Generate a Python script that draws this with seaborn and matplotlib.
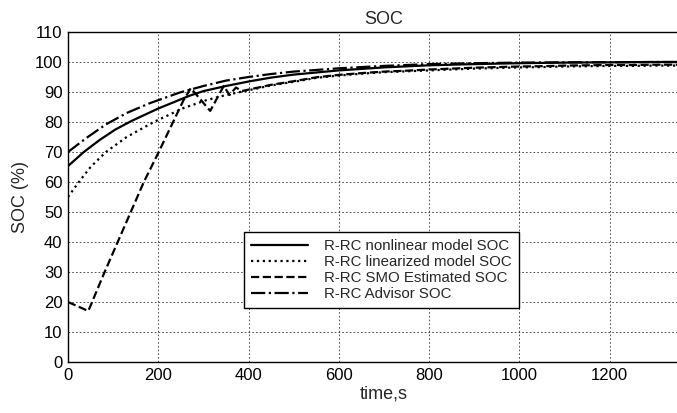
import numpy as np
import pandas as pd
import matplotlib
matplotlib.use("Agg")
import matplotlib.pyplot as plt
import seaborn as sns

# ---- data ----
t_nonlin = [0, 35, 70, 105, 140, 200, 270, 300, 350, 400, 450, 500,
            600, 700, 800, 900, 1000, 1100, 1200, 1300, 1400]
soc_nonlin = [65.3, 70, 74, 77.5, 80.3, 84.5, 88.8, 90.3, 92, 93.5, 94.8, 95.8,
              97.2, 98.2, 98.9, 99.3, 99.6, 99.8, 99.9, 100, 100]

t_lin = [0, 24, 50, 84, 130, 190, 255, 307, 350, 400, 447, 500, 550, 600, 650, 700,
         750, 800, 850, 900, 950, 1000, 1050, 1100, 1150, 1200, 1250, 1300, 1350, 1400]
soc_lin = [55, 60, 65, 70, 75, 80, 84.6, 87.3, 89, 90.6, 92.1, 93.4, 94.7, 95.5, 96.1, 96.6,
           96.9, 97.2, 97.5, 97.8, 98.0, 98.2, 98.3, 98.5, 98.6, 98.7, 98.7, 98.8, 98.8, 98.9]

t_smo = [0, 45, 80, 168, 201, 255, 272, 315, 345, 358, 372, 385, 400, 450, 500, 550, 600, 650, 700,
         750, 800, 850, 900, 950, 1000, 1050, 1100, 1150, 1200, 1250, 1300, 1350, 1400]
soc_smo = [20, 17, 29.6, 60, 70, 87, 91.3, 83.7, 92, 89, 91.5, 90.3, 90.8, 92.4, 93.6, 94.9, 95.7, 96.3, 96.8,
           97.1, 97.5, 97.8, 98.1, 98.3, 98.5, 98.6, 98.8, 98.9, 99.0, 99.0, 99.1, 99.1, 99.2]

t_adv = [0, 40, 84, 130, 180, 247, 300, 350, 400, 450, 500, 600, 700, 800, 900, 1000,
         1100, 1200, 1300, 1400]
soc_adv = [70, 74.6, 79.2, 83, 86.2, 89.8, 92, 93.8, 95, 96, 96.8, 97.9, 98.7, 99.3, 99.6, 99.8,
           99.9, 99.9, 100, 100]

labels = ["R-RC nonlinear model SOC", "R-RC linearized model SOC",
          "R-RC SMO Estimated SOC", "R-RC Advisor SOC"]
x_ticks = [0, 200, 400, 600, 800, 1000, 1200]
y_ticks = [0, 10, 20, 30, 40, 50, 60, 70, 80, 90, 100, 110]

sns.set_style("white")
plt.rcParams['font.family'] = ['Liberation Sans', 'DejaVu Sans']

fig = plt.figure(figsize=(6.77, 4.13), dpi=100)
ax = fig.add_axes([68/677, (413-362)/413, 632/677, 330/413])

series = [(t_nonlin, soc_nonlin, "-"), (t_lin, soc_lin, ":"),
          (t_smo, soc_smo, "--"), (t_adv, soc_adv, "-.")]
for (t, s, ls), lab in zip(series, labels):
    df = pd.DataFrame({"t": t, "soc": s})
    sns.lineplot(data=df, x="t", y="soc", ax=ax, color="black", linestyle=ls,
                 linewidth=1.6, label=lab, estimator=None, sort=False)

ax.set_xlim(0, 1400)
ax.set_ylim(0, 110)
ax.set_xticks(x_ticks)
ax.set_yticks(y_ticks)
ax.grid(True, color="black", linestyle=(0, (2, 2.5)), linewidth=0.6, alpha=0.8)
ax.tick_params(direction="in", length=3, labelsize=12, colors="black", pad=4)
for sp in ax.spines.values():
    sp.set_color("black")
    sp.set_linewidth(1.0)

ax.set_title("SOC", fontsize=13, pad=6)
ax.set_xlabel("time,s", fontsize=13, labelpad=2)
ax.set_ylabel("SOC (%)", fontsize=13, labelpad=4)

leg = ax.legend(loc="upper left", bbox_to_anchor=((244-68)/632, (362-232)/330),
                borderaxespad=0, fontsize=10.8, frameon=True, fancybox=False,
                edgecolor="black", framealpha=1, handlelength=3.8, handletextpad=1.1,
                labelspacing=0.15, borderpad=0.45)
leg.get_frame().set_linewidth(1.0)

fig.savefig("out.png", dpi=100)
